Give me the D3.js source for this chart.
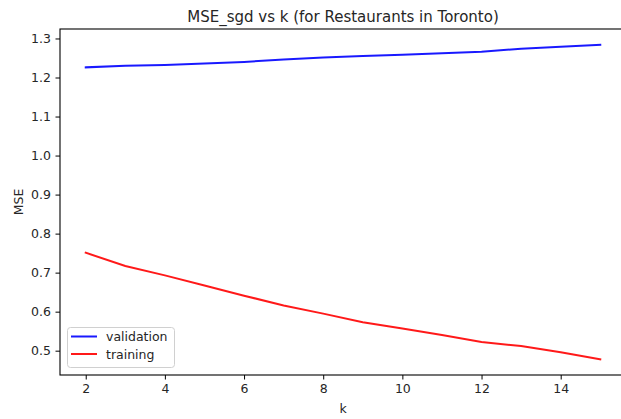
<!DOCTYPE html>
<html>
<head>
<meta charset="utf-8">
<script src="https://cdn.jsdelivr.net/npm/d3@7"></script>
<style>
  html, body { margin: 0; padding: 0; background: #fff; }
  svg { display: block; }
  text { font-family: "DejaVu Sans", sans-serif; fill: #262626; }
</style>
</head>
<body>
<svg id="chart" width="621" height="419"></svg>
<script>
// k values and mean squared error for each model size
const kValues = [2, 3, 4, 5, 6, 7, 8, 9, 10, 11, 12, 13, 14, 15];
const validationMSE = [1.226, 1.230, 1.232, 1.236, 1.240, 1.246, 1.251, 1.255, 1.258, 1.262, 1.266, 1.274, 1.279, 1.284];
const trainingMSE = [0.751, 0.717, 0.693, 0.667, 0.641, 0.616, 0.595, 0.573, 0.557, 0.540, 0.522, 0.512, 0.496, 0.478];
const xTicks = [2, 4, 6, 8, 10, 12, 14];
const yTicks = [0.5, 0.6, 0.7, 0.8, 0.9, 1.0, 1.1, 1.2, 1.3];
const seriesNames = ["validation", "training"];
const seriesColors = ["#0000ff", "#ff0000"];

const svg = d3.select("#chart");
const plotLeft = 60, plotRight = 626, plotTop = 29, plotBottom = 375;

// axis limits padded by 5% of the data span on each side
function padded(ext) {
  const m = (ext[1] - ext[0]) * 0.05;
  return [ext[0] - m, ext[1] + m];
}
const allValues = trainingMSE.concat(validationMSE);
const x = d3.scaleLinear().domain(padded(d3.extent(kValues))).range([plotLeft, plotRight]);
const y = d3.scaleLinear().domain(padded(d3.extent(allValues))).range([plotBottom, plotTop]);

// lines
const series = [validationMSE, trainingMSE];
const line = d3.line().x((d, i) => x(kValues[i])).y(d => y(d));
series.forEach((vals, i) => {
  svg.append("path")
    .datum(vals)
    .attr("d", line)
    .attr("fill", "none")
    .attr("stroke", seriesColors[i])
    .attr("stroke-width", 2)
    .attr("stroke-opacity", 0.9)
    .attr("stroke-linecap", "square");
});

// axes
const xAxis = d3.axisBottom(x).tickValues(xTicks).tickSize(4.5).tickPadding(4.5).tickFormat(d3.format("d"));
const yAxis = d3.axisLeft(y).tickValues(yTicks).tickSize(4.5).tickPadding(4.5).tickFormat(d3.format(".1f"));

const gx = svg.append("g").attr("transform", `translate(0,${plotBottom})`).call(xAxis);
const gy = svg.append("g").attr("transform", `translate(${plotLeft},0)`).call(yAxis);
[gx, gy].forEach(g => {
  g.select(".domain").remove();
  g.selectAll(".tick line").attr("stroke", "#000").attr("stroke-width", 1);
  g.selectAll(".tick text").attr("font-size", 12.5).attr("fill", "#262626")
    .attr("font-family", "DejaVu Sans, sans-serif");
});

// frame
svg.append("rect")
  .attr("x", plotLeft).attr("y", plotTop)
  .attr("width", plotRight - plotLeft).attr("height", plotBottom - plotTop)
  .attr("fill", "none").attr("stroke", "#000").attr("stroke-width", 1.1);

// title and axis labels
svg.append("text").attr("x", (plotLeft + plotRight) / 2).attr("y", 22)
  .attr("text-anchor", "middle").attr("font-size", 15)
  .text("MSE_sgd vs k (for Restaurants in Toronto)");
svg.append("text").attr("x", (plotLeft + plotRight) / 2).attr("y", 413)
  .attr("text-anchor", "middle").attr("font-size", 12.5).text("k");
svg.append("text")
  .attr("transform", `translate(23,${(plotTop + plotBottom) / 2}) rotate(-90)`)
  .attr("text-anchor", "middle").attr("font-size", 12.5).text("MSE");

// legend
const lg = svg.append("g");
lg.append("rect").attr("x", 67.5).attr("y", 327.5).attr("width", 107).attr("height", 40)
  .attr("rx", 3).attr("fill", "#fff").attr("fill-opacity", 0.8)
  .attr("stroke", "#d0d0d0").attr("stroke-width", 1);
seriesNames.forEach((name, i) => {
  const cy = 336.5 + i * 17.5;
  lg.append("line").attr("x1", 71).attr("x2", 97).attr("y1", cy).attr("y2", cy)
    .attr("stroke", seriesColors[i]).attr("stroke-width", 2).attr("stroke-opacity", 0.9);
  lg.append("text").attr("x", 106).attr("y", cy + 4.5).attr("font-size", 12.5).text(name);
});
</script>
</body>
</html>
